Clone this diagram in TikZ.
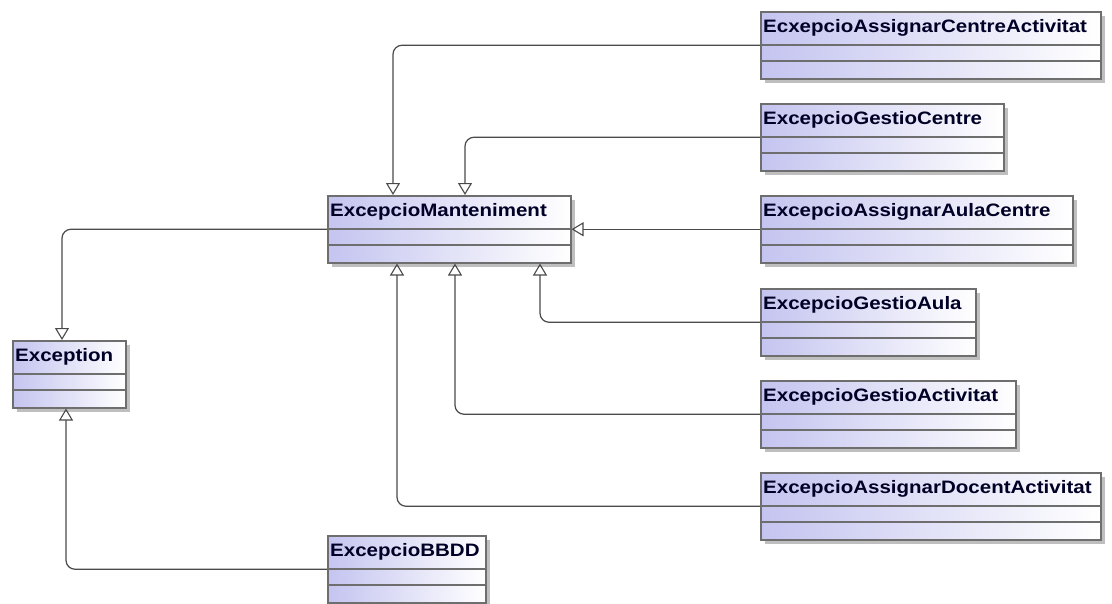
\documentclass[tikz,border=0pt]{standalone}
\usepackage{fontspec}
\setmainfont{Liberation Sans}[FakeStretch=1.14]
\usepackage{tikz}
\usetikzlibrary{arrows.meta,calc,shadows}
\tikzset{>=Stealth}
\definecolor{ClassFill}{HTML}{C4C4F0}
\definecolor{ClassLine}{HTML}{6E6E6E}
\definecolor{LinkLine}{HTML}{4A4A4A}

\begin{document}
\begin{tikzpicture}[x=1pt,y=-1pt]
  \tikzset{
    clsbox/.style={rectangle, anchor=north west, inner sep=0pt,
      minimum height=67pt, draw=ClassLine, line width=1.5pt,
      left color=ClassFill, right color=white,
      drop shadow={shadow xshift=4pt, shadow yshift=-4pt, fill=gray!50, opacity=1}},
    clsname/.style={anchor=west, inner sep=0pt,
      font=\fontsize{18}{21}\selectfont\bfseries, text=black!85!blue},
    cline/.style={draw=ClassLine, line width=1.2pt},
    gen/.style={draw=LinkLine, line width=1.2pt, rounded corners=9pt,
      -{Triangle[open, length=12pt, width=14pt, line width=1.1pt]}}
  }
  \fill[white] (0,0) rectangle (1112,603);
  \useasboundingbox (0,0) rectangle (1112,603);

  % class boxes: name / left / top / width / title
  \foreach \n/\x/\y/\w/\t in {
      acAct/760/11/340/EcxepcioAssignarCentreActivitat,
      gCentre/760/103/243/ExcepcioGestioCentre,
      mant/327/195/243/ExcepcioManteniment,
      aAula/760/195/312/ExcepcioAssignarAulaCentre,
      gAula/760/288/215/ExcepcioGestioAula,
      gAct/760/380/255/ExcepcioGestioActivitat,
      adAct/760/472/340/ExcepcioAssignarDocentActivitat,
      exc/12/340/113/Exception,
      bbdd/327/535/158/ExcepcioBBDD}{
    \node[clsbox, minimum width=\w] (\n) at (\x,\y) {};
    \node[clsname] (\n-t) at ($(\n.north west)+(3,17)$) {\t};
    \draw[cline] ($(\n.north west)+(0,34)$) -- ($(\n.north east)+(0,34)$);
    \draw[cline] ($(\n.north west)+(0,50)$) -- ($(\n.north east)+(0,50)$);
  }

  % generalisations
  \draw[gen] (acAct.west) -| ($(mant.north west)+(66,0)$);
  \draw[gen] (gCentre.west) -| ($(mant.north west)+(138,0)$);
  \draw[gen] (aAula.west) -- (mant.east);
  \draw[gen] (gAula.west) -| ($(mant.south west)+(213,0)$);
  \draw[gen] (gAct.west) -| ($(mant.south west)+(128,0)$);
  \draw[gen] (adAct.west) -| ($(mant.south west)+(70,0)$);
  \draw[gen] (mant.west) -| ($(exc.north west)+(50,0)$);
  \draw[gen] (bbdd.west) -| ($(exc.south west)+(54,0)$);
\end{tikzpicture}
\end{document}
